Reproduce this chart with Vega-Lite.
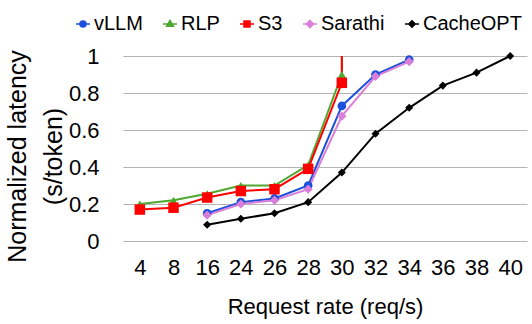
{
  "$schema": "https://vega.github.io/schema/vega-lite/v6.json",
  "width": 404,
  "height": 185,
  "autosize": {"type": "none"},
  "padding": {"left": 123, "top": 56, "right": 5, "bottom": 83},
  "background": "white",
  "datasets": {
    "pts": [
      {"rate": 16, "series": "vLLM", "latency": 0.15},
      {"rate": 24, "series": "vLLM", "latency": 0.21},
      {"rate": 26, "series": "vLLM", "latency": 0.23},
      {"rate": 28, "series": "vLLM", "latency": 0.30},
      {"rate": 30, "series": "vLLM", "latency": 0.73},
      {"rate": 32, "series": "vLLM", "latency": 0.90},
      {"rate": 34, "series": "vLLM", "latency": 0.98},
      {"rate": 4, "series": "RLP", "latency": 0.20},
      {"rate": 8, "series": "RLP", "latency": 0.22},
      {"rate": 16, "series": "RLP", "latency": 0.255},
      {"rate": 24, "series": "RLP", "latency": 0.30},
      {"rate": 26, "series": "RLP", "latency": 0.30},
      {"rate": 28, "series": "RLP", "latency": 0.41},
      {"rate": 30, "series": "RLP", "latency": 0.90},
      {"rate": 4, "series": "S3", "latency": 0.17},
      {"rate": 8, "series": "S3", "latency": 0.18},
      {"rate": 16, "series": "S3", "latency": 0.235},
      {"rate": 24, "series": "S3", "latency": 0.27},
      {"rate": 26, "series": "S3", "latency": 0.28},
      {"rate": 28, "series": "S3", "latency": 0.39},
      {"rate": 30, "series": "S3", "latency": 0.855},
      {"rate": 16, "series": "Sarathi", "latency": 0.14},
      {"rate": 24, "series": "Sarathi", "latency": 0.20},
      {"rate": 26, "series": "Sarathi", "latency": 0.22},
      {"rate": 28, "series": "Sarathi", "latency": 0.28},
      {"rate": 30, "series": "Sarathi", "latency": 0.675},
      {"rate": 32, "series": "Sarathi", "latency": 0.89},
      {"rate": 34, "series": "Sarathi", "latency": 0.97},
      {"rate": 16, "series": "CacheOPT", "latency": 0.088},
      {"rate": 24, "series": "CacheOPT", "latency": 0.12},
      {"rate": 26, "series": "CacheOPT", "latency": 0.15},
      {"rate": 28, "series": "CacheOPT", "latency": 0.21},
      {"rate": 30, "series": "CacheOPT", "latency": 0.37},
      {"rate": 32, "series": "CacheOPT", "latency": 0.58},
      {"rate": 34, "series": "CacheOPT", "latency": 0.72},
      {"rate": 36, "series": "CacheOPT", "latency": 0.84},
      {"rate": 38, "series": "CacheOPT", "latency": 0.91},
      {"rate": 40, "series": "CacheOPT", "latency": 1.0}
    ],
    "err": [
      {"rate": 30, "series": "RLP", "latency": 0.90, "hi": 1.0},
      {"rate": 30, "series": "S3", "latency": 0.855, "hi": 1.0}
    ]
  },
  "encoding": {
    "x": {
      "field": "rate",
      "type": "ordinal",
      "scale": {"type": "point", "padding": 0.5},
      "axis": {"labelAngle": 0, "grid": false, "labelPadding": 16, "titlePadding": 18},
      "title": "Request rate (req/s)"
    },
    "y": {
      "field": "latency",
      "type": "quantitative",
      "scale": {"domain": [0, 1], "nice": false},
      "axis": {"values": [0, 0.2, 0.4, 0.6, 0.8, 1], "format": "~g", "grid": true, "gridColor": "#b4b4b4", "gridWidth": 1, "gridOpacity": 1, "labelOverlap": false, "labelPadding": 24, "titlePadding": 2, "titleY": 100},
      "title": ["Normalized latency", "(s/token)"]
    },
    "color": {"field": "series", "type": "nominal", "legend": null,
      "scale": {"domain": ["vLLM", "RLP", "S3", "Sarathi", "CacheOPT"], "range": ["#1c4fdc", "#4ea72e", "#ff0000", "#d97fd9", "#000000"]}}
  },
  "layer": [
    {
      "data": {"name": "err"},
      "mark": {"type": "rule", "strokeWidth": 2},
      "encoding": {"y2": {"field": "hi"}}
    },
    {
      "data": {"name": "pts"},
      "mark": {"type": "line", "strokeWidth": 2},
      "encoding": {}
    },
    {
      "data": {"name": "pts"},
      "transform": [{"filter": "datum.series === 'vLLM'"}],
      "mark": {"type": "point", "filled": true, "opacity": 1, "shape": "circle", "size": 75},
      "encoding": {}
    },
    {
      "data": {"name": "pts"},
      "transform": [{"filter": "datum.series === 'RLP'"}],
      "mark": {"type": "point", "filled": true, "opacity": 1, "shape": "triangle-up", "size": 70},
      "encoding": {}
    },
    {
      "data": {"name": "pts"},
      "transform": [{"filter": "datum.series === 'S3'"}],
      "mark": {"type": "point", "filled": true, "opacity": 1, "shape": "square", "size": 110},
      "encoding": {}
    },
    {
      "data": {"name": "pts"},
      "transform": [{"filter": "datum.series === 'Sarathi'"}],
      "mark": {"type": "point", "filled": true, "opacity": 1, "shape": "diamond", "size": 85},
      "encoding": {}
    },
    {
      "data": {"name": "pts"},
      "transform": [{"filter": "datum.series === 'CacheOPT'"}],
      "mark": {"type": "point", "filled": true, "opacity": 1, "shape": "diamond", "size": 65},
      "encoding": {}
    },
    {
      "data": {"name": "pts"},
      "mark": {"type": "point", "filled": true, "opacity": 0},
      "encoding": {
        "color": {"field": "series", "type": "nominal", "title": null,
          "legend": {},
          "scale": {"domain": ["vLLM", "RLP", "S3", "Sarathi", "CacheOPT"], "range": ["#1c4fdc", "#4ea72e", "#ff0000", "#d97fd9", "#000000"]}},
        "stroke": {"field": "series", "type": "nominal", "title": null,
          "legend": {},
          "scale": {"domain": ["vLLM", "RLP", "S3", "Sarathi", "CacheOPT"], "range": ["#1c4fdc", "#4ea72e", "#ff0000", "#d97fd9", "#000000"]}},
        "shape": {"field": "series", "type": "nominal", "title": null,
          "legend": {},
          "scale": {"domain": ["vLLM", "RLP", "S3", "Sarathi", "CacheOPT"], "range": [
            "M-1,0H1M0.42,0A0.42,0.42 0 1,1 -0.42,0A0.42,0.42 0 1,1 0.42,0Z",
            "M-1,0H1M0,-0.5L0.48,0.3L-0.48,0.3Z",
            "M-1,0H1M-0.42,-0.42H0.42V0.42H-0.42Z",
            "M-1,0H1M0,-0.5L0.5,0L0,0.5L-0.5,0Z",
            "M-1,0H1M0,-0.45L0.45,0L0,0.45L-0.45,0Z"
          ]}}
      }
    }
  ],
  "resolve": {"legend": {"color": "independent", "stroke": "independent", "shape": "independent"}},
  "config": {
    "font": "Liberation Sans",
    "view": {"stroke": null},
    "axis": {
      "labelFont": "Liberation Sans",
      "labelFontSize": 22,
      "labelColor": "#000000",
      "titleFont": "Liberation Sans",
      "titleFontSize": 22,
      "titleFontWeight": "normal",
      "titleColor": "#000000",
      "domain": false,
      "tickSize": 0,
      "gridColor": "#b4b4b4",
      "gridWidth": 1
    },
    "axisY": {"titleFontSize": 25, "titleLineHeight": 36},
    "legend": {
      "orient": "none",
      "legendX": -50,
      "legendY": -42,
      "direction": "horizontal",
      "gridAlign": "none",
      "labelFont": "Liberation Sans",
      "labelFontSize": 20,
      "labelColor": "#000000",
      "labelOffset": 1,
      "symbolSize": 196,
      "symbolStrokeWidth": 1.6,
      "symbolOpacity": 1,
      "columnPadding": 16
    }
  }
}
